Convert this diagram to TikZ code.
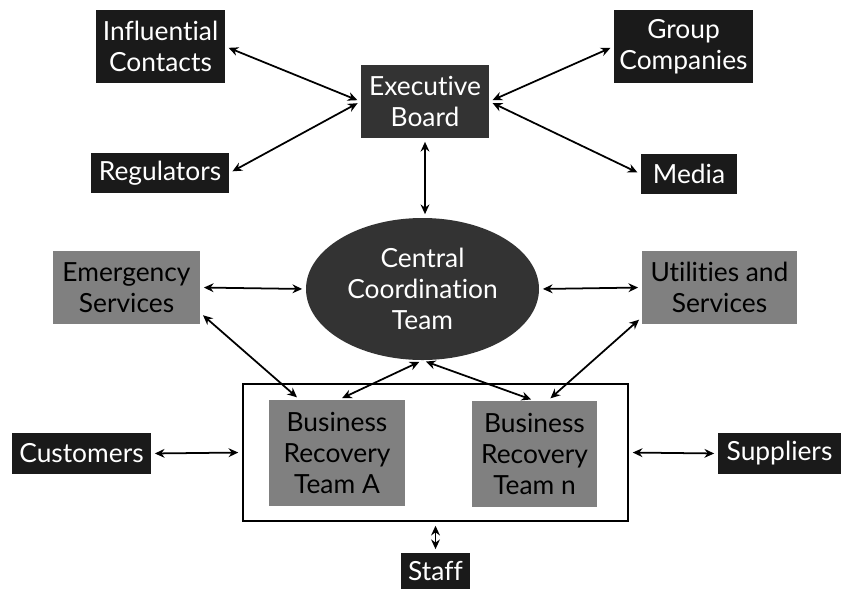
\documentclass[tikz,border=0pt]{standalone}
\usepackage{fontspec}
\setmainfont{Lato}[Ligatures=CommonOff]
\usepackage{xcolor}
\usepackage{tikz}
\usetikzlibrary{shapes.geometric,arrows.meta}
\definecolor{boxblack}{HTML}{1A1A1A}
\definecolor{boxdark}{HTML}{333333}
\definecolor{boxgray}{HTML}{808080}
\tikzset{
  party/.style={
    fill=boxblack,
    text=white,
    align=center,
    inner sep=0pt,
    font=\fontsize{15}{17.5}\selectfont
  },
  partyd/.style={
    party,
    fill=boxdark
  },
  team/.style={
    fill=boxgray,
    text=black,
    align=center,
    inner sep=0pt,
    font=\fontsize{15}{17.5}\selectfont
  },
  link/.style={
    {Stealth[length=5.5pt,width=5pt]}-{Stealth[length=5.5pt,width=5pt]},
    line width=1pt,
    shorten <=2pt,
    shorten >=2pt
  }
}

\begin{document}
\begin{tikzpicture}[x=0.02cm,y=-0.02cm]
        \useasboundingbox (0,0) rectangle (841,589);
        % top row
        \node[party,minimum width=129*0.02cm,minimum height=73*0.02cm] (infl) at (160.5,46.5) {Influential\\Contacts};
        \node[partyd,minimum width=128*0.02cm,minimum height=73*0.02cm] (exec) at (425,101.5) {Executive\\Board};
        \node[party,minimum width=139*0.02cm,minimum height=73*0.02cm] (group) at (683.5,46.5) {Group\\Companies};
        \node[party,minimum width=138*0.02cm,minimum height=40*0.02cm] (reg) at (160,173) {Regulators};
        \node[party,minimum width=96*0.02cm,minimum height=40*0.02cm] (media) at (689,174) {Media};
        % middle row
        \node[team,minimum width=147*0.02cm,minimum height=73*0.02cm] (emerg) at (126.5,287.5) {Emergency\\Services};
        \node[partyd,ellipse,minimum width=233*0.02cm,minimum height=142*0.02cm] (central) at (422.5,289) {Central\\Coordination\\Team};
        \node[team,minimum width=155*0.02cm,minimum height=73*0.02cm] (util) at (719.5,287.5) {Utilities and\\Services};
        % recovery teams
        \node[draw,line width=1.4pt,minimum width=385*0.02cm,minimum height=137*0.02cm] (teams) at (435.5,452.5) {};
        \node[team,minimum width=136*0.02cm,minimum height=106*0.02cm] (brtA) at (337,453) {Business\\Recovery\\Team A};
        \node[team,minimum width=125*0.02cm,minimum height=106*0.02cm] (brtN) at (534.5,454) {Business\\Recovery\\Team n};
        \node[party,minimum width=139*0.02cm,minimum height=41*0.02cm] (cust) at (81.5,453.5) {Customers};
        \node[party,minimum width=123*0.02cm,minimum height=41*0.02cm] (supp) at (779.5,453.5) {Suppliers};
        \node[party,minimum width=69*0.02cm,minimum height=36*0.02cm] (staff) at (435.5,571) {Staff};
        % links
        \draw[link] (infl.east) -- (exec.west);
        \draw[link] (reg.east) -- (exec.west);
        \draw[link] (exec.east) -- (group.west);
        \draw[link] (exec.east) -- (media.west);
        \draw[link] (exec.south) -- (exec.south |- central.north);
        \draw[link] (emerg.east) -- (central.west);
        \draw[link] (central.east) -- (util.west);
        \draw[link] (emerg.-19) -- (brtA.125);
        \draw[link] (central.south) -- (brtA.88);
        \draw[link] (central.south) -- (brtN.north);
        \draw[link] (util.201) -- (brtN.76);
        \draw[link] (cust.east) -- (teams.west);
        \draw[link] (teams.east) -- (supp.west);
        \draw[link] (teams.south) -- (staff.north);
    \end{tikzpicture}
\end{document}
